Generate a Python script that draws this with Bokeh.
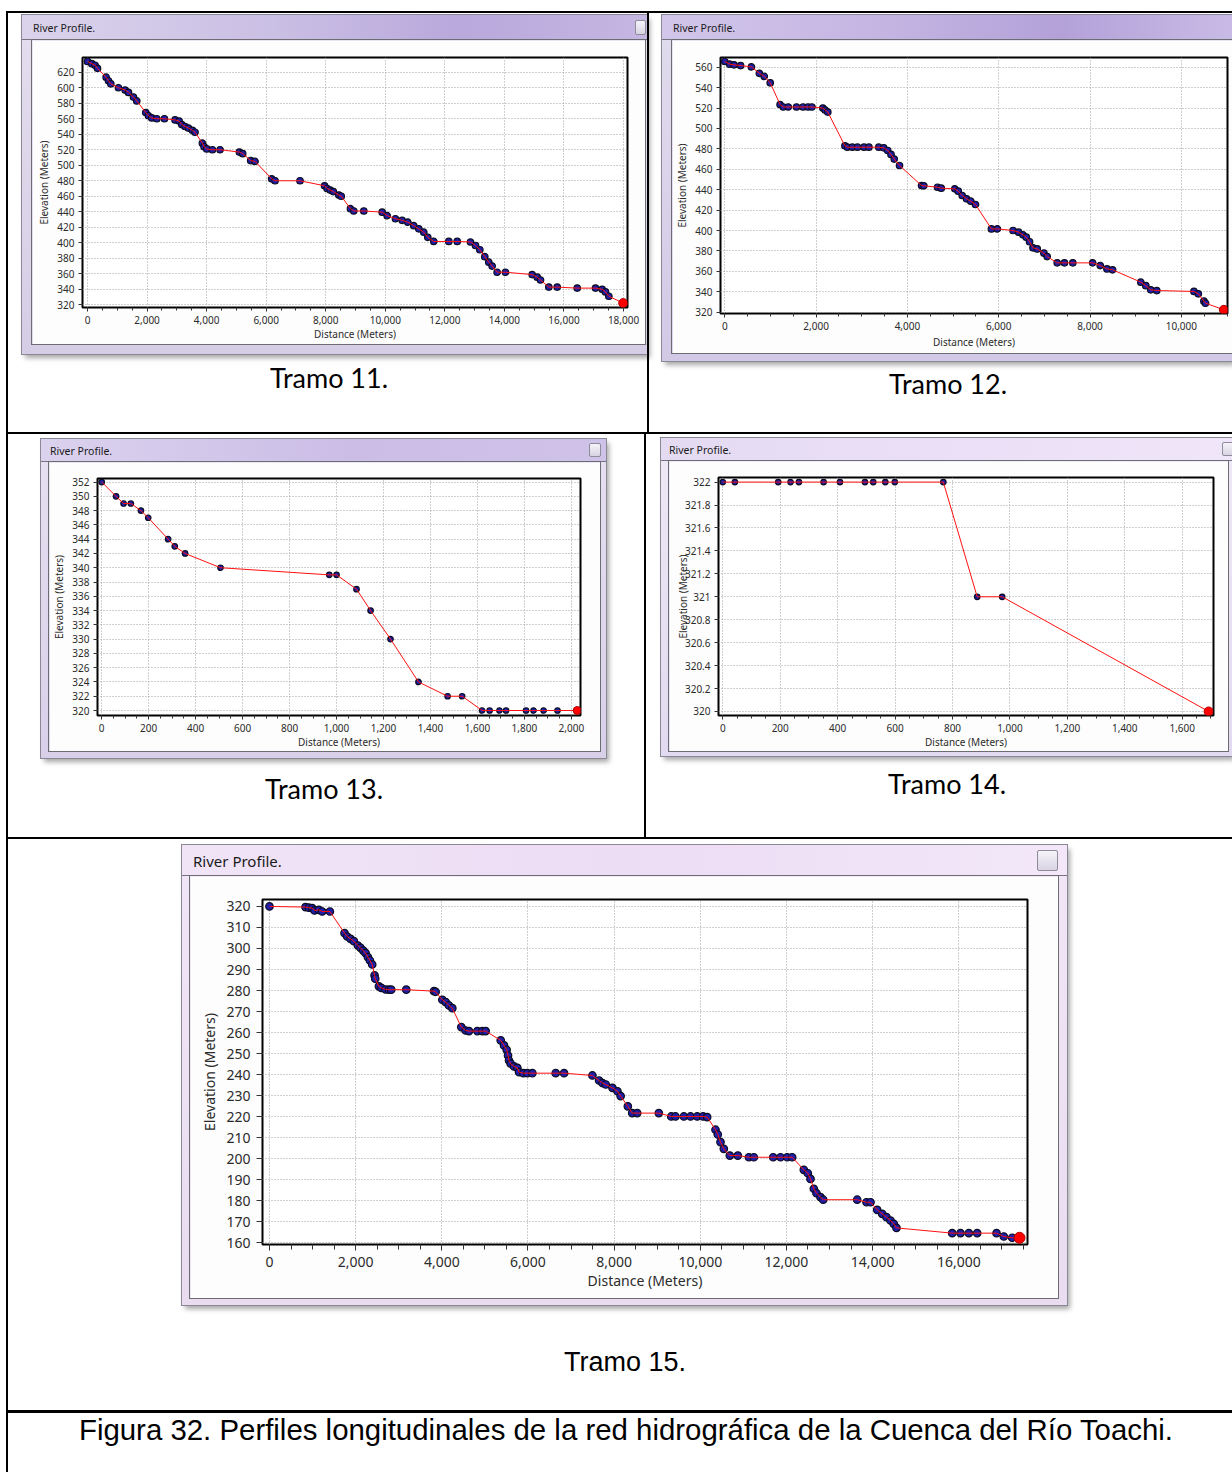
from bokeh.plotting import figure
from bokeh.layouts import column, row
from bokeh.models import Range1d, FixedTicker, NumeralTickFormatter, Div, Spacer
from bokeh.embed import file_html
from bokeh.resources import INLINE

# ---------------- data ----------------
T11_DIST = [0, 145, 257, 335, 626, 705, 783, 1040, 1264, 1376,
            1544, 1655, 1957, 2047, 2159, 2326, 2583, 2940, 3076, 3165,
            3277, 3389, 3523, 3612, 3858, 3915, 4004, 4194, 4452, 5100,
            5212, 5480, 5626, 6185, 6297, 7136, 7960, 8047, 8150, 8255,
            8440, 8520, 8831, 8943, 9278, 9895, 10063, 10342, 10566, 10756,
            10957, 11125, 11293, 11428, 11629, 12132, 12414, 12861, 13029, 13174,
            13342, 13476, 13588, 13756, 14036, 14933, 15101, 15213, 15491, 15772,
            16444, 17058, 17283, 17394, 17506, 17988]
T11_ELEV = [634, 631, 629, 625, 613.6, 609, 605, 600, 597, 594,
            588, 583, 568, 564, 561, 560, 560, 558.5, 557, 552.5,
            550, 548, 545, 542.6, 528.5, 524, 521, 520, 520, 517,
            515, 506, 505, 482.5, 480, 480, 473.5, 470, 468, 466,
            461.5, 460, 444, 441, 441, 439.5, 435, 431, 429, 426.6,
            422, 418, 413.7, 407, 401.7, 401.7, 401.7, 401, 396.5, 391,
            382, 375, 370, 362, 362, 359, 355.6, 352, 342.8, 342.8,
            341.5, 341.5, 340, 336.6, 331, 322.2]

T12_DIST = [0, 108, 202, 346, 584, 757, 865, 995, 1211, 1283,
            1391, 1571, 1715, 1823, 1910, 2148, 2198, 2256, 2631, 2688,
            2796, 2905, 3049, 3157, 3373, 3481, 3568, 3640, 3712, 3827,
            4310, 4360, 4660, 4740, 5039, 5113, 5200, 5295, 5389, 5491,
            5840, 5971, 6313, 6435, 6531, 6603, 6675, 6750, 6843, 6989,
            7061, 7280, 7439, 7622, 8058, 8224, 8370, 8494, 9112, 9221,
            9330, 9461, 10275, 10371, 10493, 10530, 10930]
T12_ELEV = [565.6, 563, 562.3, 561.6, 560.3, 554, 551, 544.7, 523.4, 521,
            521, 521, 521, 521, 521, 520, 518, 516, 483, 481.6,
            481.6, 481.6, 481.6, 481.6, 481.6, 481, 478.4, 474.5, 470, 463.7,
            444, 443.8, 442.4, 441.5, 440.8, 438.5, 434.3, 431, 428.7, 425.5,
            401.6, 401.6, 400, 398.4, 395.8, 393.5, 389, 383, 382, 377.8,
            374.5, 368.3, 368.3, 368.3, 368.3, 365.7, 362.4, 361.5, 349.4, 346,
            341.9, 341.2, 340.3, 338, 330.8, 328.8, 322.3]

T13_DIST = [0, 61, 93, 124, 167, 198, 283, 311, 355, 506,
            969, 1000, 1085, 1145, 1230, 1349, 1473, 1535, 1620, 1652,
            1694, 1722, 1807, 1839, 1882, 1941, 2025]
T13_ELEV = [352, 350, 349, 349, 348, 347, 344, 343, 342, 340,
            339, 339, 337, 334, 330, 324, 322, 322, 320, 320,
            320, 320, 320, 320, 320, 320, 320]

T14_DIST = [0, 42, 193, 236, 265, 351, 408, 495, 524, 566, 599, 768, 886, 973, 1692]
T14_ELEV = [322, 322, 322, 322, 322, 322, 322, 322, 322, 322, 322, 322, 321, 321, 320]

T15_DIST = [0, 836, 914, 991, 1045, 1146, 1224, 1402, 1742, 1804,
            1882, 1959, 2052, 2114, 2176, 2230, 2284, 2331, 2385, 2439,
            2455, 2540, 2594, 2695, 2772, 2826, 3175, 3818, 3857, 4012,
            4090, 4166, 4244, 4453, 4553, 4631, 4825, 4941, 5018, 5367,
            5444, 5506, 5537, 5560, 5599, 5677, 5754, 5793, 5893, 5986,
            6102, 6644, 6838, 7496, 7651, 7729, 7806, 7961, 8077, 8151,
            8318, 8419, 8535, 9037, 9325, 9424, 9618, 9773, 9928, 10067,
            10160, 10353, 10406, 10469, 10546, 10685, 10871, 11127, 11243, 11692,
            11862, 12017, 12133, 12403, 12496, 12558, 12635, 12697, 12790, 12853,
            13642, 13858, 13951, 14106, 14222, 14322, 14415, 14492, 14554, 15847,
            16040, 16233, 16427, 16876, 17045, 17240, 17410]
T15_ELEV = [320, 319.7, 319.4, 319.2, 318.1, 318.4, 317.6, 317.6, 307.3, 305.7,
            304.6, 303.5, 301.4, 300.3, 299, 297.8, 295.9, 294.3, 292.4, 287.2,
            285.6, 282, 281.3, 280.5, 280.4, 280.4, 280.4, 279.7, 279.4, 275.6,
            274.5, 272.9, 271.6, 262.6, 261, 260.7, 260.7, 260.7, 260.7, 256.3,
            253.9, 251.8, 249.1, 246.7, 245.2, 243.9, 243.2, 241.2, 240.7, 240.7,
            240.7, 240.7, 240.7, 239.6, 237.2, 236, 235.3, 233.7, 232.1, 229.8,
            224.9, 221.7, 221.7, 221.7, 220.1, 220.1, 220.1, 220.1, 220.1, 220.1,
            219.8, 213.8, 211.5, 207.9, 204.7, 201.5, 201.5, 200.7, 200.7, 200.7,
            200.7, 200.7, 200.7, 194.7, 193.1, 190.4, 185.7, 183.6, 181.7, 180.5,
            180.5, 179.3, 179.3, 175.7, 173.8, 172.2, 170.6, 169, 167.1, 164.6,
            164.6, 164.6, 164.6, 164.6, 163, 162.4, 162.4]

# tick values
T11_XTICKS = [0, 2000, 4000, 6000, 8000, 10000, 12000, 14000, 16000, 18000]
T11_YTICKS = [320, 340, 360, 380, 400, 420, 440, 460, 480, 500, 520, 540, 560, 580, 600, 620]
T12_XTICKS = [0, 2000, 4000, 6000, 8000, 10000]
T12_YTICKS = [320, 340, 360, 380, 400, 420, 440, 460, 480, 500, 520, 540, 560]
T13_XTICKS = [0, 200, 400, 600, 800, 1000, 1200, 1400, 1600, 1800, 2000]
T13_YTICKS = [320, 322, 324, 326, 328, 330, 332, 334, 336, 338, 340, 342, 344, 346, 348, 350, 352]
T14_XTICKS = [0, 200, 400, 600, 800, 1000, 1200, 1400, 1600]
T14_YTICKS = [320, 320.2, 320.4, 320.6, 320.8, 321, 321.2, 321.4, 321.6, 321.8, 322]
T15_XTICKS = [0, 2000, 4000, 6000, 8000, 10000, 12000, 14000, 16000]
T15_YTICKS = [160, 170, 180, 190, 200, 210, 220, 230, 240, 250, 260, 270, 280, 290, 300, 310, 320]

CAPTIONS = ["Tramo 11.", "Tramo 12.", "Tramo 13.", "Tramo 14.", "Tramo 15."]
FIG_CAPTION = "Figura 32. Perfiles longitudinales de la red hidrográfica de la Cuenca del Río Toachi."
WINDOW_TITLE = "River Profile."
X_LABEL = "Distance (Meters)"
Y_LABEL = "Elevation (Meters)"

TICK_FONT = "Noto Sans"


# ---------------- helpers ----------------
def sp(w, h):
    return Spacer(width=w, height=h, margin=0)


def block(w, h, color="#000000"):
    return Div(text="", width=w, height=h, margin=0, styles={"background-color": color})


def caption(text, w, h, font, size):
    html = (f'<div style="width:{w}px;height:{h}px;line-height:{h}px;text-align:center;'
            f'font-family:\'{font}\';font-size:{size}px;color:#000;white-space:nowrap;">{text}</div>')
    return Div(text=html, width=w, height=h, margin=0)


def titlebar(w, h, fs, grad, pl, pt, btn):
    b = ""
    if btn is not None:
        bw, bh, br = btn
        b = (f'<span style="position:absolute;right:{br}px;top:{(h - bh) // 2}px;width:{bw}px;height:{bh}px;'
             f'box-sizing:border-box;border:1px solid #8e8c98;border-radius:2px;'
             f'background:linear-gradient(#f6f4fa,#d8d4e2);"></span>')
    html = (f'<div style="position:relative;width:{w}px;height:{h}px;box-sizing:border-box;background:{grad};'
            f'border-bottom:1px solid #76747e;font-family:\'Noto Sans\';font-size:{fs}px;color:#1a1a1a;'
            f'line-height:{h - pt}px;padding-left:{pl}px;padding-top:{pt}px;overflow:hidden;white-space:nowrap;">'
            f'{WINDOW_TITLE}{b}</div>')
    return Div(text=html, width=w, height=h, margin=0)


def profile(dist, elev, c):
    p = figure(width=c["fw"], height=c["fh"], x_range=Range1d(*c["xr"]), y_range=Range1d(*c["yr"]),
               output_backend="svg", toolbar_location=None, tools="", title=None,
               min_border_left=c["mb"][0], min_border_right=c["mb"][1],
               min_border_top=c["mb"][2], min_border_bottom=c["mb"][3],
               background_fill_color="white", border_fill_color="#fdfdfd",
               outline_line_color="black", outline_line_width=2,
               styles={"box-shadow": "0 0 0 1px #6c6c72"})
    xt = FixedTicker(ticks=c["xticks"], minor_ticks=c["xminor"])
    yt = FixedTicker(ticks=c["yticks"])
    p.xaxis.ticker = xt
    p.xgrid.ticker = xt
    p.yaxis.ticker = yt
    p.ygrid.ticker = yt
    p.xaxis.formatter = NumeralTickFormatter(format="0,0")
    p.yaxis.formatter = NumeralTickFormatter(format=c["yfmt"])
    p.xaxis.axis_label = X_LABEL
    p.yaxis.axis_label = Y_LABEL
    for ax in (p.xaxis, p.yaxis):
        ax.axis_line_color = None
        ax.major_tick_line_color = "#333333"
        ax.major_tick_in = 0
        ax.major_tick_out = c["tick"]
        ax.major_label_text_font = TICK_FONT
        ax.major_label_text_font_size = f'{c["fs"]}px'
        ax.major_label_text_color = "#2b2b2b"
        ax.major_label_standoff = c["ls"]
        ax.axis_label_text_font = TICK_FONT
        ax.axis_label_text_font_size = f'{c["afs"]}px'
        ax.axis_label_text_font_style = "normal"
        ax.axis_label_text_color = "#2b2b2b"
    p.xaxis.axis_label_standoff = c["xas"]
    p.yaxis.axis_label_standoff = c["yas"]
    p.xaxis.minor_tick_line_color = "#333333"
    p.xaxis.minor_tick_in = 0
    p.xaxis.minor_tick_out = c["tick"] - 1
    p.yaxis.minor_tick_line_color = None
    for g in (p.xgrid, p.ygrid):
        g.grid_line_color = "#a0a0a0"
        g.grid_line_dash = "1 2"
        g.grid_line_width = 1
    p.scatter(dist, elev, size=c["ms"], fill_color="#1e1ea8", line_color="#0c0c22", line_width=1.2)
    p.line(dist, elev, line_color="#ff1010", line_width=1)
    p.scatter(dist[-1:], elev[-1:], size=c["es"], fill_color="#ff0000", line_color="#b00000", line_width=1)
    return p


def window(fig, c):
    w, fl, fr, fb = c["ww"], c["fl"], c["fr"], c["fb"]
    tb = titlebar(w, c["th"], c["tfs"], c["grad"], c["tpl"], c["tpt"], c["btn"])
    mid = [sp(fl, c["fh"]), fig]
    if fr > 0:
        mid.append(sp(fr, c["fh"]))
    return column(tb, row(*mid), sp(w, fb),
                  styles={"background": c["fbg"],
                          "box-shadow": "0 0 0 1px #8a8894, 3px 4px 5px rgba(0,0,0,0.35)"})


def minor(step, end):
    return list(range(0, end + 1, step))


# ---------------- windows ----------------
C11 = dict(ww=625, th=25, fl=10, fr=2, fb=10, fw=613, fh=304,
           mb=(50, 18, 17, 37), xr=(-168, 18133), yr=(316.5, 639),
           xticks=T11_XTICKS, yticks=T11_YTICKS, xminor=minor(500, 18000), yfmt="0",
           tick=4, fs=10, afs=10, ls=4, xas=0, yas=3, ms=6.5, es=9,
           tfs=10.5, tpl=11, tpt=2, btn=(11, 15, 1),
           grad="linear-gradient(to right,#dbd3ec 0%,#cabfe4 40%,#b9a8dc 70%,#c5b6e2 100%)",
           fbg="linear-gradient(to bottom,#e4deef,#d5cde6)")
C12 = dict(ww=570, th=25, fl=10, fr=0, fb=8, fw=560, fh=313,
           mb=(46, 5, 17, 40), xr=(-94, 11010), yr=(318.7, 569.5),
           xticks=T12_XTICKS, yticks=T12_YTICKS, xminor=minor(500, 11000), yfmt="0",
           tick=4, fs=10, afs=10, ls=4, xas=2, yas=3, ms=6.5, es=9,
           tfs=10.5, tpl=11, tpt=2, btn=None,
           grad="linear-gradient(to right,#d2c6ea 0%,#c3b4e2 40%,#b3a1d8 70%,#c8bae6 100%)",
           fbg="linear-gradient(to bottom,#e2dcef,#d2c9e6)")
C13 = dict(ww=565, th=23, fl=8, fr=6, fb=7, fw=551, fh=289,
           mb=(44, 20, 16, 35), xr=(-18, 2039), yr=(319.3, 352.5),
           xticks=T13_XTICKS, yticks=T13_YTICKS, xminor=minor(50, 2050), yfmt="0",
           tick=4, fs=10, afs=10, ls=4, xas=0, yas=3, ms=5.5, es=8,
           tfs=10.5, tpl=9, tpt=2, btn=(12, 14, 5),
           grad="linear-gradient(to right,#dbd2ee 0%,#cbbde6 55%,#cfc2e8 100%)",
           fbg="linear-gradient(to bottom,#e6e0f1,#d8d0e9)")
C14 = dict(ww=571, th=23, fl=8, fr=4, fb=5, fw=559, fh=290,
           mb=(49, 15, 16, 36), xr=(-15, 1709), yr=(319.965, 322.04),
           xticks=T14_XTICKS, yticks=T14_YTICKS, xminor=minor(50, 1700), yfmt="0.[0]",
           tick=4, fs=10, afs=10, ls=4, xas=0, yas=-8, ms=5.5, es=9,
           tfs=10.5, tpl=8, tpt=2, btn=(12, 14, -2),
           grad="linear-gradient(to right,#e4dbf3 0%,#eadff6 50%,#f0e6f9 100%)",
           fbg="linear-gradient(to bottom,#eee8f6,#e2daf0)")
C15 = dict(ww=885, th=31, fl=8, fr=9, fb=7, fw=868, fh=422,
           mb=(72, 31, 23, 54), xr=(-162, 17595), yr=(159.2, 323.3),
           xticks=T15_XTICKS, yticks=T15_YTICKS, xminor=minor(500, 17500), yfmt="0",
           tick=6, fs=14, afs=14, ls=6, xas=1, yas=4, ms=7.5, es=11,
           tfs=15, tpl=11, tpt=1, btn=(21, 21, 9),
           grad="linear-gradient(to right,#f1e4f7 0%,#ecdcf4 50%,#f3e7f9 100%)",
           fbg="linear-gradient(to bottom,#f1e6f6,#e9dcf1)")

W11 = window(profile(T11_DIST, T11_ELEV, C11), C11)
W12 = window(profile(T12_DIST, T12_ELEV, C12), C12)
W13 = window(profile(T13_DIST, T13_ELEV, C13), C13)
W14 = window(profile(T14_DIST, T14_ELEV, C14), C14)
W15 = window(profile(T15_DIST, T15_ELEV, C15), C15)

# ---------------- table cells ----------------
cell1 = column(sp(639, 2), row(sp(14, 339), W11), sp(639, 4),
               row(sp(3, 40), caption(CAPTIONS[0], 636, 40, "Lato", 27)), sp(639, 34))
cell2 = column(sp(583, 2), row(sp(13, 346), W12), sp(583, 3),
               row(sp(15, 40), caption(CAPTIONS[1], 568, 40, "Lato", 27)), sp(583, 28))
cell3 = column(sp(636, 5), row(sp(33, 319), W13), sp(636, 11),
               caption(CAPTIONS[2], 632, 40, "Lato", 27), sp(636, 28))
cell4 = column(sp(586, 4), row(sp(15, 318), W14), sp(586, 8),
               row(sp(10, 40), caption(CAPTIONS[3], 582, 40, "Lato", 27)), sp(586, 33))
cell5 = column(sp(1224, 6), row(sp(174, 460), W15), sp(1224, 37),
               row(sp(10, 40), caption(CAPTIONS[4], 1214, 40, "Liberation Sans", 27)), sp(1224, 28))
cell6 = column(row(sp(12, 34), caption(FIG_CAPTION, 1212, 34, "Liberation Sans", 29.4)), sp(1224, 25))

page = column(
    sp(1232, 11),
    row(sp(6, 2), block(1226, 2)),
    row(sp(6, 419), block(2, 419), cell1, block(2, 419), cell2),
    row(sp(6, 2), block(1226, 2)),
    row(sp(6, 403), block(2, 403), cell3, block(2, 403), cell4),
    row(sp(6, 2), block(1226, 2)),
    row(sp(6, 571), block(2, 571), cell5),
    row(sp(6, 3), block(1226, 3)),
    row(sp(6, 59), block(2, 59), cell6),
    styles={"background-color": "white"},
)

open("out.html", "w").write(file_html(page, INLINE))
